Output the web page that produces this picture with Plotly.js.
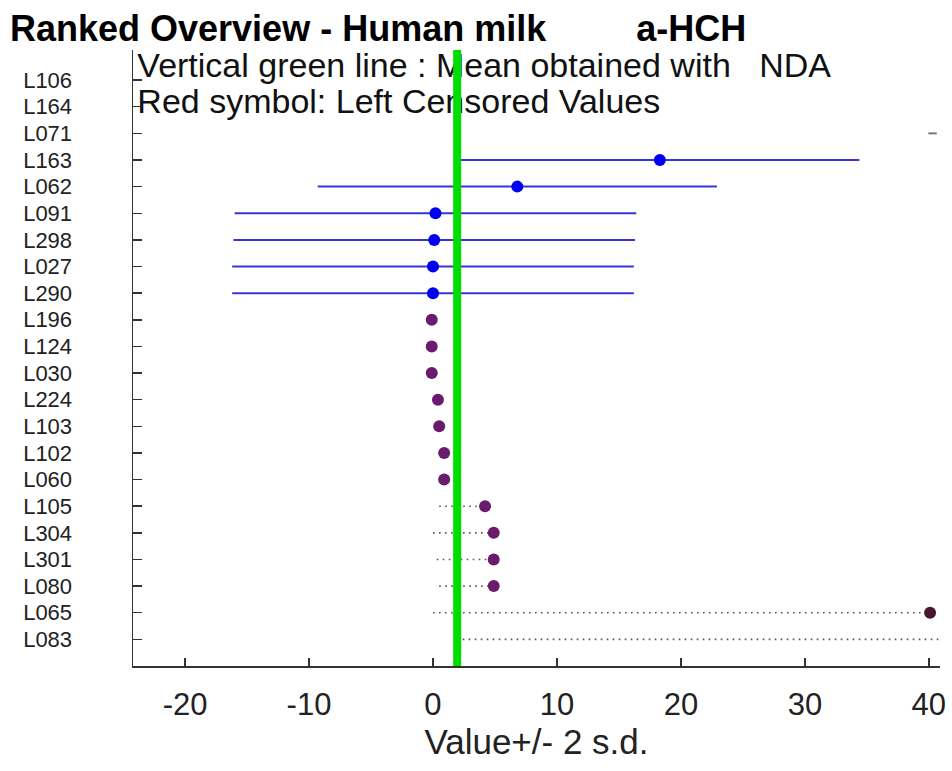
<!DOCTYPE html>
<html><head><meta charset="utf-8">
<script src="https://cdn.plot.ly/plotly-3.0.1.min.js"></script>
<style>html,body{margin:0;padding:0;background:#fff}</style>
</head><body><div id="chart" style="width:952px;height:771px"></div>
<script>
// Row labels (ranked, top to bottom)
const labs = ['L106','L164','L071','L163','L062','L091','L298','L027','L290','L196','L124','L030','L224','L103','L102','L060','L105','L304','L301','L080','L065','L083'];
// Results reported with an uncertainty (blue, +/- 2 s.d.)
const blueLabs = ['L163','L062','L091','L298','L027','L290'];
const blueVals = [18.3, 6.8, 0.2, 0.1, 0.0, 0.0];
const blueSd2  = [16.1, 16.1, 16.2, 16.2, 16.2, 16.2];
// Results without uncertainty (purple)
const purpleLabs = ['L196','L124','L030','L224','L103','L102','L060','L105','L304','L301','L080'];
const purpleVals = [-0.1, -0.1, -0.1, 0.4, 0.5, 0.9, 0.9, 4.2, 4.9, 4.9, 4.9];
// Left censored value
const censLabs = ['L065'];
const censVals = [40.1];
// Dotted ranges
const dotLabs = ['L105','L304','L301','L080','L065','L083'];
const dotLow  = [0.5, 0.0, 0.3, 0.5, 0.0, 2.4];
const dotHigh = [4.2, 4.9, 4.9, 4.9, 40.0, 41.0];
// Small grey mark
const markLabs = ['L071'];
const markVals = [40.3];
// Mean obtained with NDA
const meanNDA = 1.95;
const xTicks = [-20, -10, 0, 10, 20, 30, 40];
const xTickText = ['-20', '-10', '0', '10', '20', '30', '40'];
const legendLines = ['Vertical green line : Mean obtained with\u00a0\u00a0 NDA', 'Red symbol: Left Censored Values'];

const FONT = 'Liberation Sans, Arial, sans-serif';
const idx = l => labs.indexOf(l);

const dx = [], dy = [];
dotLabs.forEach((l, i) => { dx.push(dotLow[i], dotHigh[i], null); dy.push(idx(l), idx(l), null); });

const traces = [
  { type: 'scatter', mode: 'lines', x: dx, y: dy, hoverinfo: 'skip',
    line: { color: '#555', width: 1.6, dash: '1.6px,4.4px' }, showlegend: false },
  { type: 'scatter', mode: 'markers', x: blueVals, y: blueLabs.map(idx),
    error_x: { type: 'data', array: blueSd2, symmetric: true, color: '#3535d8', thickness: 2, width: 0 },
    marker: { color: '#0000ee', size: 12 }, showlegend: false },
  { type: 'scatter', mode: 'markers', x: purpleVals, y: purpleLabs.map(idx),
    marker: { color: '#6a1b6e', size: 12 }, showlegend: false },
  { type: 'scatter', mode: 'markers', x: censVals, y: censLabs.map(idx),
    marker: { color: '#4b1530', size: 12 }, showlegend: false },
  { type: 'scatter', mode: 'markers', x: markVals, y: markLabs.map(idx),
    marker: { color: '#777', size: 6, symbol: 'line-ew', line: { color: '#777', width: 2 } }, showlegend: false },
  { type: 'scatter', mode: 'text', x: [-23.85, -23.85], y: [-0.42, 0.9], text: legendLines,
    textposition: 'middle right', cliponaxis: false, hoverinfo: 'skip',
    textfont: { family: FONT, size: 34, color: '#111' }, showlegend: false }
];

const layout = {
  width: 952, height: 771,
  margin: { l: 133, r: 12, t: 50, b: 105 },
  paper_bgcolor: '#fff', plot_bgcolor: '#fff',
  font: { family: FONT, color: '#111' },
  title: { text: 'Ranked Overview - Human milk' + '\u00a0'.repeat(9) + 'a-HCH',
    x: 10/952, xanchor: 'left', xref: 'container', y: 1 - 28/771, yanchor: 'middle', yref: 'container',
    font: { family: FONT, size: 36, weight: 'bold', color: '#000' } },
  xaxis: { range: [-24.2, 40.9], tickvals: xTicks, ticktext: xTickText, ticks: 'inside', ticklen: 8, tickwidth: 1.5, tickcolor: '#333',
    showline: true, linecolor: '#333', linewidth: 1.5, showgrid: false, zeroline: false,
    tickfont: { family: FONT, size: 31, color: '#222' }, ticklabelstandoff: 10,
    title: { text: 'Value+/- 2 s.d.', font: { family: FONT, size: 35, color: '#222' }, standoff: 8 } },
  yaxis: { range: [22.0, -1.13], tickvals: labs.map((l, i) => i), ticktext: labs, ticks: 'inside', ticklen: 9,
    tickwidth: 1.5, tickcolor: '#333', showline: true, linecolor: '#333', linewidth: 1.5,
    showgrid: false, zeroline: false, tickfont: { family: FONT, size: 22, color: '#222' }, ticklabelstandoff: 55 },
  shapes: [{ type: 'line', xref: 'x', yref: 'paper', x0: meanNDA, x1: meanNDA, y0: 0, y1: 1,
    line: { color: '#00dd00', width: 8 }, layer: 'above' }],
  showlegend: false
};

Plotly.newPlot('chart', traces, layout, { displayModeBar: false, staticPlot: true });
</script></body></html>
